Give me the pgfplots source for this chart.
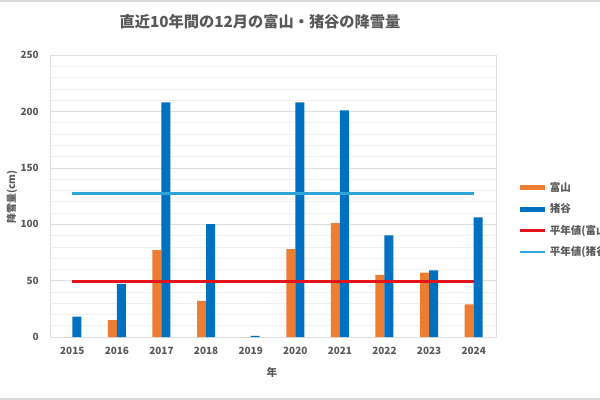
\documentclass[border=0pt]{standalone}
\usepackage{fontspec}
\setmainfont{Noto Sans CJK JP}
\usepackage{pgfplots}
\pgfplotsset{compat=1.18}

\definecolor{txtgray}{HTML}{595959}
\definecolor{cToyama}{HTML}{ED7D31}
\definecolor{cIno}{HTML}{0070C0}
\definecolor{cRed}{HTML}{E3141B}
\definecolor{cCyan}{HTML}{2FA4D8}

% 1 px of the 600x400 reference = 0.03cm
\begin{document}
\begin{tikzpicture}
	\useasboundingbox (0,0) rectangle (18cm,12cm);
	\fill[white] (0,0) rectangle (18cm,12cm);
	\draw[black!15, line width=0.06cm] (0,11.98cm) -- (18cm,11.98cm);
	\draw[black!15, line width=0.06cm] (0,0.03cm) -- (18cm,0.03cm);

	\begin{axis}[
			at={(1.5cm,1.89cm)}, anchor=south west,
			scale only axis,
			width=13.38cm, height=8.46cm,
			xmin=-0.5, xmax=9.5,
			ymin=0, ymax=250,
			ybar=0pt, bar width=0.27cm,
			xtick={0,...,9},
			xticklabels={2015,2016,2017,2018,2019,2020,2021,2022,2023,2024},
			ytick={0,50,...,250},
			minor y tick num=4,
			major tick length=0pt, minor tick length=0pt,
			ymajorgrids, yminorgrids,
			major grid style={black!13, line width=0.5pt},
			minor grid style={black!6, line width=0.4pt},
			axis line style={black!12},
			/pgf/number format/assume math mode=true,
			ticklabel style={font=\fontsize{8.5}{10}\selectfont\bfseries, text=txtgray},
			xticklabel style={inner sep=0pt, anchor=north, yshift=-0.3cm},
			yticklabel style={inner sep=0pt, anchor=east, xshift=-0.33cm},
			legend style={
					at={(1.043,0.415)}, anchor=west,
					draw=none, fill=none,
					font=\fontsize{9}{10}\selectfont\bfseries, text=txtgray,
					nodes={inner sep=0pt, minimum height=0.64cm},
					row sep=0pt,
					/tikz/every odd column/.style={column sep=0.1cm},
				},
			legend cell align=left,
		]

		\addplot[fill=cToyama, draw=none,
			legend image code/.code={\fill (0cm,-0.075cm) rectangle (0.75cm,0.075cm);}]
		coordinates {(0,0) (1,15) (2,77) (3,32) (4,0) (5,78) (6,101) (7,55) (8,57) (9,29)};
		\addlegendentry{富山}

		\addplot[fill=cIno, draw=none,
			legend image code/.code={\fill (0cm,-0.075cm) rectangle (0.75cm,0.075cm);}]
		coordinates {(0,18) (1,47) (2,208) (3,100) (4,1) (5,208) (6,201) (7,90) (8,59) (9,106)};
		\addlegendentry{猪谷}

		\addplot[sharp plot, draw=cRed, line width=0.075cm, forget plot=false,
			legend image code/.code={\draw (0cm,0cm) -- (0.75cm,0cm);}]
		coordinates {(0,49) (9,49)};
		\addlegendentry{平年値(富山)}

		\addplot[sharp plot, draw=cCyan, line width=0.075cm,
			legend image code/.code={\draw (0cm,0cm) -- (0.75cm,0cm);}]
		coordinates {(0,127) (9,127)};
		\addlegendentry{平年値(猪谷)}
	\end{axis}

	\node[font=\fontsize{13}{15}\selectfont\bfseries, text=txtgray] at (7.8cm,11.34cm) {直近10年間の12月の富山・猪谷の降雪量};
	\node[font=\fontsize{9}{10}\selectfont\bfseries, text=txtgray] at (8.16cm,0.84cm) {年};
	\node[font=\fontsize{8.5}{10}\selectfont\bfseries, text=txtgray, rotate=90] at (0.36cm,6.09cm) {降雪量(cm)};
\end{tikzpicture}
\end{document}
